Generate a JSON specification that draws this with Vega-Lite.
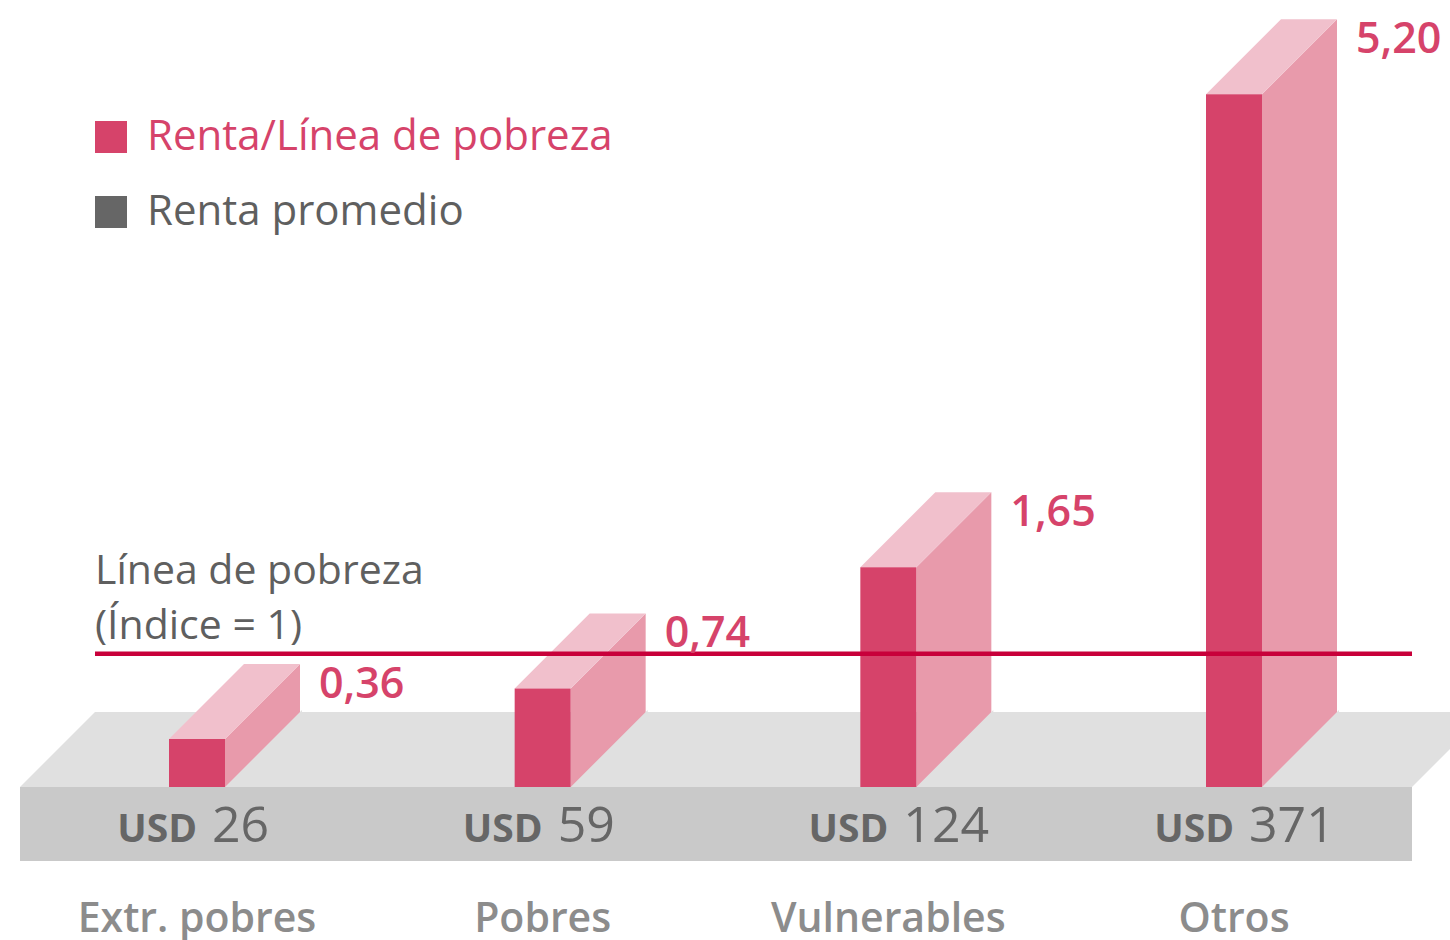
{
  "$schema": "https://vega.github.io/schema/vega-lite/v6.json",
  "width": 1450,
  "height": 940,
  "padding": 0,
  "autosize": {"type": "none"},
  "background": "white",
  "config": {
    "view": {"stroke": null},
    "locale": {"number": {"decimal": ",", "thousands": ".", "grouping": [3], "currency": ["", ""]}}
  },
  "datasets": {
    "grupos": [
      {"grupo": "Extr. pobres", "ratio": 0.36, "renta": 26},
      {"grupo": "Pobres", "ratio": 0.74, "renta": 59},
      {"grupo": "Vulnerables", "ratio": 1.65, "renta": 124},
      {"grupo": "Otros", "ratio": 5.20, "renta": 371}
    ],
    "uno": [{"id": 1}]
  },
  "data": {"name": "grupos"},
  "layer": [
    {
      "data": {"name": "uno"},
      "mark": {"type": "point", "shape": "M-705,0L-630,-75L762,-75L687,0Z", "size": 4, "filled": true, "fill": "#e0e0e0", "opacity": 1, "strokeWidth": 0},
      "encoding": {
        "y": {"datum": 0, "type": "quantitative", "scale": {"domain": [-1.1486, 5.9084], "nice": false, "zero": false}, "axis": null}
      }
    },
    {
      "data": {"name": "uno"},
      "mark": {"type": "point", "shape": "M-705,0L687,0L687,74L-705,74Z", "size": 4, "filled": true, "fill": "#c9c9c9", "opacity": 1, "strokeWidth": 0},
      "encoding": {
        "y": {"datum": 0, "type": "quantitative"}
      }
    },
    {
      "mark": {"type": "bar", "width": 75, "xOffset": 65.5, "yOffset": -75, "color": "#e89aab"},
      "encoding": {
        "x": {"field": "grupo", "type": "nominal", "sort": null, "scale": {"type": "point", "domain": ["Extr. pobres", "Pobres", "Vulnerables", "Otros"], "range": [197, 1234], "padding": 0}, "axis": null},
        "y": {"field": "ratio", "type": "quantitative"},
        "y2": {"datum": 0}
      }
    },
    {
      "mark": {"type": "point", "shape": "M28,0L105,0L105,-77Z", "size": 4, "filled": true, "fill": "#e0e0e0", "opacity": 1, "strokeWidth": 0},
      "encoding": {
        "x": {"field": "grupo", "type": "nominal"},
        "y": {"datum": 0, "type": "quantitative"}
      }
    },
    {
      "mark": {"type": "point", "shape": "M26,2L26,-77L105,-77Z", "size": 4, "filled": true, "fill": "#ffffff", "opacity": 1, "strokeWidth": 0},
      "encoding": {
        "x": {"field": "grupo", "type": "nominal"},
        "y": {"field": "ratio", "type": "quantitative"}
      }
    },
    {
      "mark": {"type": "point", "shape": "M-28,0L28,0L103,-75L47,-75Z", "size": 4, "filled": true, "fill": "#f1c0cc", "opacity": 1, "strokeWidth": 0},
      "encoding": {
        "x": {"field": "grupo", "type": "nominal"},
        "y": {"field": "ratio", "type": "quantitative"}
      }
    },
    {
      "mark": {"type": "bar", "width": 56},
      "encoding": {
        "x": {"field": "grupo", "type": "nominal"},
        "y": {"field": "ratio", "type": "quantitative"},
        "y2": {"datum": 0},
        "color": {
          "datum": "Renta/Línea de pobreza",
          "type": "nominal",
          "scale": {"domain": ["Renta/Línea de pobreza", "Renta promedio"], "range": ["#d6436a", "#666666"]},
          "legend": {
            "title": null,
            "orient": "none",
            "legendX": 90,
            "legendY": 116,
            "direction": "vertical",
            "symbolType": "square",
            "symbolSize": 1024,
            "symbolStrokeWidth": 0,
            "symbolOpacity": 1,
            "labelFont": "Open Sans",
            "labelFontSize": 42,
            "labelFontWeight": "normal",
            "labelOffset": 15,
            "labelLimit": 700,
            "rowPadding": 33,
            "padding": 0,
            "encode": {
              "labels": {"update": {"fill": {"signal": "datum.label === 'Renta promedio' ? '#5f5f5f' : '#d6436a'"}}}
            }
          }
        }
      }
    },
    {
      "data": {"name": "uno"},
      "mark": {"type": "rule", "color": "#c8003a", "strokeWidth": 4.5, "xOffset": -102, "x2Offset": 178},
      "encoding": {
        "x": {"datum": "Extr. pobres", "type": "nominal"},
        "x2": {"datum": "Otros"},
        "y": {"datum": 1, "type": "quantitative"}
      }
    },
    {
      "mark": {"type": "text", "align": "left", "baseline": "alphabetic", "dx": 122, "dy": -41, "font": "Open Sans", "fontSize": 43, "fontWeight": 600, "color": "#d6436a"},
      "encoding": {
        "x": {"field": "grupo", "type": "nominal"},
        "y": {"field": "ratio", "type": "quantitative"},
        "text": {"field": "ratio", "type": "quantitative", "format": ".2f"}
      }
    },
    {
      "mark": {"type": "text", "align": "right", "baseline": "alphabetic", "dx": 0, "font": "Open Sans", "fontSize": 39, "fontWeight": "bold", "text": "USD"},
      "encoding": {
        "x": {"field": "grupo", "type": "nominal"},
        "y": {"datum": -0.4129, "type": "quantitative"},
        "color": {"datum": "Renta promedio", "type": "nominal"}
      }
    },
    {
      "mark": {"type": "text", "align": "left", "baseline": "alphabetic", "dx": 15, "font": "Open Sans", "fontSize": 50, "fontWeight": 500, "color": "#666666"},
      "encoding": {
        "x": {"field": "grupo", "type": "nominal"},
        "y": {"datum": -0.4129, "type": "quantitative"},
        "text": {"field": "renta", "type": "quantitative"}
      }
    },
    {
      "mark": {"type": "text", "align": "center", "baseline": "alphabetic", "font": "Open Sans", "fontSize": 41, "fontWeight": 600, "color": "#8c8c8c"},
      "encoding": {
        "x": {"field": "grupo", "type": "nominal"},
        "y": {"datum": -1.0886, "type": "quantitative"},
        "text": {"field": "grupo", "type": "nominal"}
      }
    },
    {
      "data": {"name": "uno"},
      "mark": {"type": "text", "align": "left", "baseline": "alphabetic", "dx": -102, "dy": -70, "lineHeight": 55, "font": "Open Sans", "fontSize": 41, "fontWeight": "normal", "color": "#5f5f5f", "text": ["Línea de pobreza", "(Índice = 1)"]},
      "encoding": {
        "x": {"datum": "Extr. pobres", "type": "nominal"},
        "y": {"datum": 1, "type": "quantitative"}
      }
    }
  ]
}
